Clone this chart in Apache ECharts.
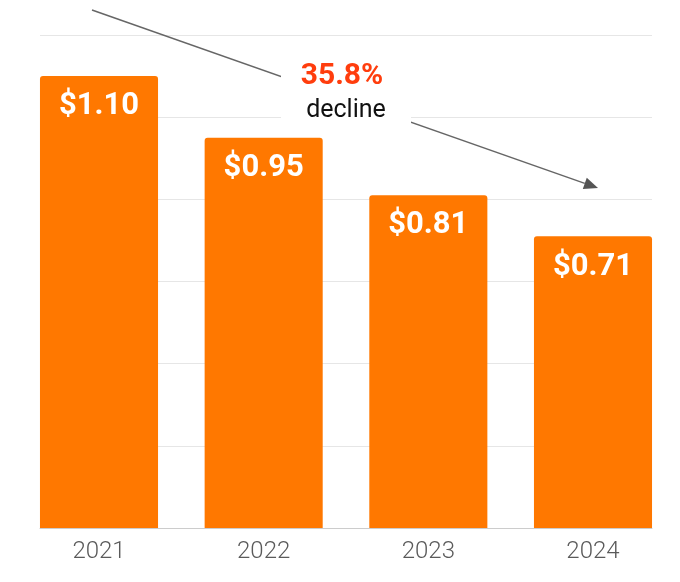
<!DOCTYPE html>
<html>
<head>
<meta charset="utf-8">
<script src="https://cdn.jsdelivr.net/npm/echarts@6/dist/echarts.min.js"></script>
<style>html,body{margin:0;padding:0;background:#fff}#c{width:680px;height:582px}</style>
</head>
<body>
<div id="c"></div>
<script>
const years = ['2021', '2022', '2023', '2024'];
const prices = [1.10, 0.95, 0.81, 0.71];
const yTicks = [0, 0.2, 0.4, 0.6, 0.8, 1.0, 1.2];
const declinePct = '35.8%';
const declineWord = 'decline';

const chart = echarts.init(document.getElementById('c'), null, {renderer: 'canvas'});

// arrow geometry (annotation only)
const p0 = [92, 10], p1 = [598, 188];
const dx = p1[0] - p0[0], dy = p1[1] - p0[1];
const len = Math.hypot(dx, dy);
const ux = dx / len, uy = dy / len;
const hl = 14, hw = 6;
const bx = p1[0] - ux * hl, by = p1[1] - uy * hl;
const head = [[p1[0], p1[1]], [bx - uy * hw, by + ux * hw], [bx + uy * hw, by - ux * hw]];

const yMin = yTicks[0], yMax = yTicks[yTicks.length - 1];

chart.setOption({
  animation: false,
  grid: [
    {left: 16.67, right: 4.67, top: 35, bottom: 54},
    {left: 40, right: 28, top: 35, bottom: 54}
  ],
  xAxis: [
    {
      type: 'category', gridIndex: 0, data: years,
      axisLine: {show: false}, axisTick: {show: false},
      axisLabel: {color: '#5a5a5a', fontSize: 24, fontFamily: 'Roboto', fontWeight: 300, margin: 12}
    },
    {
      type: 'category', gridIndex: 1, data: years,
      axisLine: {show: true, lineStyle: {color: '#cccccc', width: 1}},
      axisTick: {show: false}, axisLabel: {show: false}
    }
  ],
  yAxis: [
    {
      type: 'value', gridIndex: 0, min: yMin, max: yMax, interval: 0.2,
      axisLine: {show: false}, axisTick: {show: false}, axisLabel: {show: false}, splitLine: {show: false}
    },
    {
      type: 'value', gridIndex: 1, min: yMin, max: yMax, interval: 0.2,
      axisLine: {show: false}, axisTick: {show: false}, axisLabel: {show: false},
      splitLine: {lineStyle: {color: '#e6e6e6', width: 1}}
    }
  ],
  series: [{
    type: 'bar',
    xAxisIndex: 0, yAxisIndex: 0,
    data: prices,
    barCategoryGap: '28.3%',
    z: 5,
    itemStyle: {color: '#ff7800', borderRadius: [3, 3, 0, 0]},
    label: {
      show: true,
      position: 'insideTop',
      distance: 15,
      color: '#ffffff',
      fontSize: 31,
      fontWeight: 'bold',
      fontFamily: 'Roboto',
      formatter: p => '$' + p.value.toFixed(2)
    }
  }],
  graphic: [
    {type: 'line', z: 100, shape: {x1: p0[0], y1: p0[1], x2: bx, y2: by}, style: {stroke: '#666666', lineWidth: 1.5}},
    {type: 'polygon', z: 100, shape: {points: head}, style: {fill: '#555555'}},
    {type: 'rect', z: 101, shape: {x: 281, y: 52, width: 130, height: 80}, style: {fill: '#ffffff'}},
    {type: 'text', z: 102, x: 342, y: 76, style: {text: declinePct, fill: '#ff3d0d', font: 'bold 30px Roboto', textAlign: 'center', textVerticalAlign: 'middle'}},
    {type: 'text', z: 102, x: 346, y: 111, style: {text: declineWord, fill: '#111111', font: '25px Roboto', textAlign: 'center', textVerticalAlign: 'middle'}}
  ]
});
</script>
</body>
</html>
